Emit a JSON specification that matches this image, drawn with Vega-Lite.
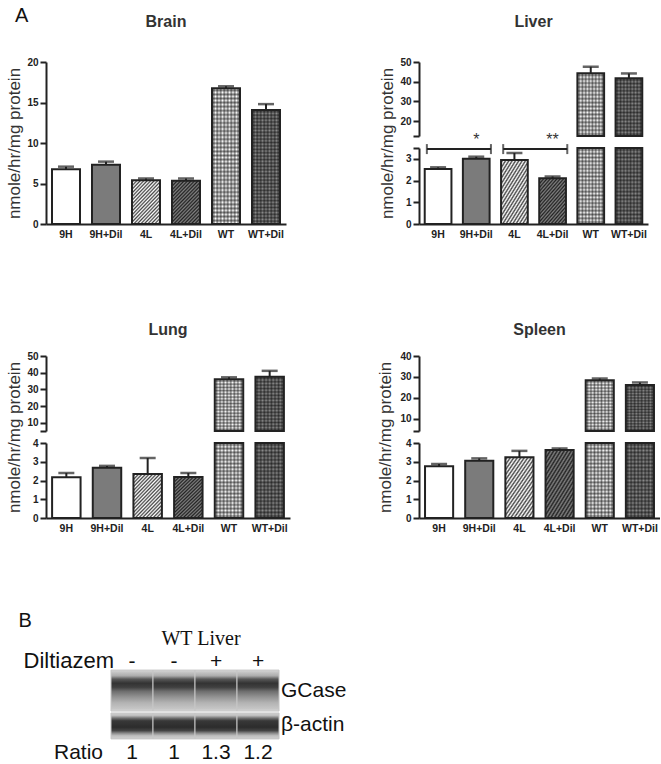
{
"$schema": "https://vega.github.io/schema/vega-lite/v6.json",
"background": "white",
"padding": {"left": 5, "top": 6, "right": 0, "bottom": 0},
"title": {"text": "A", "anchor": "start", "frame": "bounds", "fontSize": 20, "fontWeight": "normal", "color": "#111", "dx": 10, "offset": -28, "baseline": "alphabetic"},
"datasets": {
 "brain": [{"g":"9H","v":6.75,"hi":7.08},{"g":"9H+Dil","v":7.33,"hi":7.7},{"g":"4L","v":5.4,"hi":5.62},{"g":"4L+Dil","v":5.33,"hi":5.62},{"g":"WT","v":16.75,"hi":17.0},{"g":"WT+Dil","v":14.07,"hi":14.8}],
 "liver": [{"g":"9H","v":2.53,"hi":2.61},{"g":"9H+Dil","v":3.0,"hi":3.1},{"g":"4L","v":2.95,"hi":3.27},{"g":"4L+Dil","v":2.11,"hi":2.19},{"g":"WT","v":44.3,"hi":47.6},{"g":"WT+Dil","v":41.8,"hi":44.2}],
 "liver_sig": [{"from":"9H","to":"9H+Dil","at":"9H+Dil","y":3.45,"star":"*"},{"from":"4L","to":"4L+Dil","at":"4L+Dil","y":3.45,"star":"**"}],
 "lung": [{"g":"9H","v":2.17,"hi":2.4},{"g":"9H+Dil","v":2.68,"hi":2.78},{"g":"4L","v":2.35,"hi":3.2},{"g":"4L+Dil","v":2.19,"hi":2.4},{"g":"WT","v":36.0,"hi":37.2},{"g":"WT+Dil","v":37.6,"hi":41.1}],
 "spleen": [{"g":"9H","v":2.76,"hi":2.88},{"g":"9H+Dil","v":3.06,"hi":3.18},{"g":"4L","v":3.24,"hi":3.58},{"g":"4L+Dil","v":3.63,"hi":3.71},{"g":"WT","v":28.4,"hi":29.2},{"g":"WT+Dil","v":26.1,"hi":27.3}],
 "lanes": [{"lane":"1","dil":"-","ratio":"1"},{"lane":"2","dil":"-","ratio":"1"},{"lane":"3","dil":"+","ratio":"1.3"},{"lane":"4","dil":"+","ratio":"1.2"}]
},
"columns": 2,
"spacing": {"row": 132, "column": 129},
"bounds": "flush",
"align": "none",
"concat": [
 {
  "width": 240, "height": 162,
  "title": {"text": "Brain", "offset": 27},
  "data": {"name": "brain"},
  "encoding": {
   "x": {"field":"g","type":"nominal","sort":null,"title":null,"scale":{"domain":["9H","9H+Dil","4L","4L+Dil","WT","WT+Dil"],"paddingInner":0.3,"paddingOuter":0.15}},
   "y": {"field":"v","type":"quantitative","stack":null,"scale":{"domain":[0,20],"nice":false},"axis":{"values":[0,5,10,15,20],"title":"nmole/hr/mg protein","titleX":-32,"titleY":81}}
  },
  "layer": [
   {"mark":{"type":"bar"},"encoding":{"fill":{"field":"g","type":"nominal","scale":{"domain":["9H","9H+Dil","4L","4L+Dil","WT","WT+Dil"],"range":["#ffffff","#7b7b7b","#ffffff","#808080","#ffffff","#8c8c8c"]},"legend":null}}},
   {"transform":[{"filter":{"field":"g","oneOf":["4L","4L+Dil"]}}],"mark":{"type":"bar","fill":{"gradient":"linear","x1":0,"y1":0,"x2":0.77,"y2":1.15,"stops":[{"offset":0,"color":"#0000"},{"offset":0.025,"color":"#000b"},{"offset":0.05,"color":"#0000"},{"offset":0.075,"color":"#000b"},{"offset":0.1,"color":"#0000"},{"offset":0.125,"color":"#000b"},{"offset":0.15,"color":"#0000"},{"offset":0.175,"color":"#000b"},{"offset":0.2,"color":"#0000"},{"offset":0.225,"color":"#000b"},{"offset":0.25,"color":"#0000"},{"offset":0.275,"color":"#000b"},{"offset":0.3,"color":"#0000"},{"offset":0.325,"color":"#000b"},{"offset":0.35,"color":"#0000"},{"offset":0.375,"color":"#000b"},{"offset":0.4,"color":"#0000"},{"offset":0.425,"color":"#000b"},{"offset":0.45,"color":"#0000"},{"offset":0.475,"color":"#000b"},{"offset":0.5,"color":"#0000"},{"offset":0.525,"color":"#000b"},{"offset":0.55,"color":"#0000"},{"offset":0.575,"color":"#000b"},{"offset":0.6,"color":"#0000"},{"offset":0.625,"color":"#000b"},{"offset":0.65,"color":"#0000"},{"offset":0.675,"color":"#000b"},{"offset":0.7,"color":"#0000"},{"offset":0.725,"color":"#000b"},{"offset":0.75,"color":"#0000"},{"offset":0.775,"color":"#000b"},{"offset":0.8,"color":"#0000"},{"offset":0.825,"color":"#000b"},{"offset":0.85,"color":"#0000"},{"offset":0.875,"color":"#000b"},{"offset":0.9,"color":"#0000"},{"offset":0.925,"color":"#000b"},{"offset":0.95,"color":"#0000"},{"offset":0.975,"color":"#000b"},{"offset":1,"color":"#0000"}]}}},
   {"transform":[{"filter":{"field":"g","oneOf":["WT","WT+Dil"]}}],"mark":{"type":"bar","fill":{"gradient":"linear","x1":0,"y1":0,"x2":1,"y2":0,"stops":[{"offset":0,"color":"#0000"},{"offset":0.0625,"color":"#0007"},{"offset":0.125,"color":"#0000"},{"offset":0.1875,"color":"#0007"},{"offset":0.25,"color":"#0000"},{"offset":0.3125,"color":"#0007"},{"offset":0.375,"color":"#0000"},{"offset":0.4375,"color":"#0007"},{"offset":0.5,"color":"#0000"},{"offset":0.5625,"color":"#0007"},{"offset":0.625,"color":"#0000"},{"offset":0.6875,"color":"#0007"},{"offset":0.75,"color":"#0000"},{"offset":0.8125,"color":"#0007"},{"offset":0.875,"color":"#0000"},{"offset":0.9375,"color":"#0007"},{"offset":1,"color":"#0000"}]}}},
   {"transform":[{"filter":{"field":"g","oneOf":["WT","WT+Dil"]}}],"mark":{"type":"bar","fill":{"gradient":"linear","x1":0,"y1":0,"x2":0,"y2":1,"stops":[{"offset":0,"color":"#0000"},{"offset":0.015,"color":"#0007"},{"offset":0.03,"color":"#0000"},{"offset":0.045,"color":"#0007"},{"offset":0.06,"color":"#0000"},{"offset":0.075,"color":"#0007"},{"offset":0.09,"color":"#0000"},{"offset":0.105,"color":"#0007"},{"offset":0.12,"color":"#0000"},{"offset":0.135,"color":"#0007"},{"offset":0.15,"color":"#0000"},{"offset":0.165,"color":"#0007"},{"offset":0.18,"color":"#0000"},{"offset":0.195,"color":"#0007"},{"offset":0.21,"color":"#0000"},{"offset":0.225,"color":"#0007"},{"offset":0.24,"color":"#0000"},{"offset":0.255,"color":"#0007"},{"offset":0.27,"color":"#0000"},{"offset":0.285,"color":"#0007"},{"offset":0.3,"color":"#0000"},{"offset":0.315,"color":"#0007"},{"offset":0.33,"color":"#0000"},{"offset":0.345,"color":"#0007"},{"offset":0.36,"color":"#0000"},{"offset":0.375,"color":"#0007"},{"offset":0.39,"color":"#0000"},{"offset":0.405,"color":"#0007"},{"offset":0.42,"color":"#0000"},{"offset":0.435,"color":"#0007"},{"offset":0.45,"color":"#0000"},{"offset":0.465,"color":"#0007"},{"offset":0.48,"color":"#0000"},{"offset":0.495,"color":"#0007"},{"offset":0.51,"color":"#0000"},{"offset":0.525,"color":"#0007"},{"offset":0.54,"color":"#0000"},{"offset":0.555,"color":"#0007"},{"offset":0.57,"color":"#0000"},{"offset":0.585,"color":"#0007"},{"offset":0.6,"color":"#0000"},{"offset":0.615,"color":"#0007"},{"offset":0.63,"color":"#0000"},{"offset":0.645,"color":"#0007"},{"offset":0.66,"color":"#0000"},{"offset":0.675,"color":"#0007"},{"offset":0.69,"color":"#0000"},{"offset":0.705,"color":"#0007"},{"offset":0.72,"color":"#0000"},{"offset":0.735,"color":"#0007"},{"offset":0.75,"color":"#0000"},{"offset":0.765,"color":"#0007"},{"offset":0.78,"color":"#0000"},{"offset":0.795,"color":"#0007"},{"offset":0.81,"color":"#0000"},{"offset":0.825,"color":"#0007"},{"offset":0.84,"color":"#0000"},{"offset":0.855,"color":"#0007"},{"offset":0.87,"color":"#0000"},{"offset":0.885,"color":"#0007"},{"offset":0.9,"color":"#0000"},{"offset":0.915,"color":"#0007"},{"offset":0.93,"color":"#0000"},{"offset":0.945,"color":"#0007"},{"offset":0.96,"color":"#0000"},{"offset":0.975,"color":"#0007"},{"offset":0.99,"color":"#0000"},{"offset":1,"color":"#0000"}]}}},
   {"mark":{"type":"bar","fill":"transparent","stroke":"#222","strokeWidth":2}},
   {"mark":{"type":"rule","color":"#222","strokeWidth":2},"encoding":{"y2":{"field":"hi"}}},
   {"mark":{"type":"tick","color":"#222","size":16,"thickness":2.5},"encoding":{"y":{"field":"hi","type":"quantitative"}}}
  ]
 },
 {
  "width": 229, "height": 162,
  "title": {"text": "Liver", "offset": 27},
  "data": {"name": "liver"},
  "layer": [
   {
    "encoding": {
     "x": {"field":"g","type":"nominal","sort":null,"title":null,"scale":{"domain":["9H","9H+Dil","4L","4L+Dil","WT","WT+Dil"],"paddingInner":0.3,"paddingOuter":0.15}},
     "y": {"field":"v","type":"quantitative","stack":null,"scale":{"domain":[0,3.5],"range":[162,86],"clamp":true,"nice":false,"zero":false},"axis":{"orient":"left","values":[0,1,2,3,3.5],"labelExpr":"datum.value == 3.5 ? '' : format(datum.value, 'd')","title":"nmole/hr/mg protein","titleX":-32,"titleY":81}}
    },
    "layer": [
     {"mark":{"type":"bar"},"encoding":{"fill":{"field":"g","type":"nominal","scale":{"domain":["9H","9H+Dil","4L","4L+Dil","WT","WT+Dil"],"range":["#ffffff","#7b7b7b","#ffffff","#808080","#ffffff","#8c8c8c"]},"legend":null}}},
     {"transform":[{"filter":{"field":"g","oneOf":["4L","4L+Dil"]}}],"mark":{"type":"bar","fill":{"gradient":"linear","x1":0,"y1":0,"x2":0.77,"y2":1.15,"stops":[{"offset":0,"color":"#0000"},{"offset":0.025,"color":"#000b"},{"offset":0.05,"color":"#0000"},{"offset":0.075,"color":"#000b"},{"offset":0.1,"color":"#0000"},{"offset":0.125,"color":"#000b"},{"offset":0.15,"color":"#0000"},{"offset":0.175,"color":"#000b"},{"offset":0.2,"color":"#0000"},{"offset":0.225,"color":"#000b"},{"offset":0.25,"color":"#0000"},{"offset":0.275,"color":"#000b"},{"offset":0.3,"color":"#0000"},{"offset":0.325,"color":"#000b"},{"offset":0.35,"color":"#0000"},{"offset":0.375,"color":"#000b"},{"offset":0.4,"color":"#0000"},{"offset":0.425,"color":"#000b"},{"offset":0.45,"color":"#0000"},{"offset":0.475,"color":"#000b"},{"offset":0.5,"color":"#0000"},{"offset":0.525,"color":"#000b"},{"offset":0.55,"color":"#0000"},{"offset":0.575,"color":"#000b"},{"offset":0.6,"color":"#0000"},{"offset":0.625,"color":"#000b"},{"offset":0.65,"color":"#0000"},{"offset":0.675,"color":"#000b"},{"offset":0.7,"color":"#0000"},{"offset":0.725,"color":"#000b"},{"offset":0.75,"color":"#0000"},{"offset":0.775,"color":"#000b"},{"offset":0.8,"color":"#0000"},{"offset":0.825,"color":"#000b"},{"offset":0.85,"color":"#0000"},{"offset":0.875,"color":"#000b"},{"offset":0.9,"color":"#0000"},{"offset":0.925,"color":"#000b"},{"offset":0.95,"color":"#0000"},{"offset":0.975,"color":"#000b"},{"offset":1,"color":"#0000"}]}}},
     {"transform":[{"filter":{"field":"g","oneOf":["WT","WT+Dil"]}}],"mark":{"type":"bar","fill":{"gradient":"linear","x1":0,"y1":0,"x2":1,"y2":0,"stops":[{"offset":0,"color":"#0000"},{"offset":0.0625,"color":"#0007"},{"offset":0.125,"color":"#0000"},{"offset":0.1875,"color":"#0007"},{"offset":0.25,"color":"#0000"},{"offset":0.3125,"color":"#0007"},{"offset":0.375,"color":"#0000"},{"offset":0.4375,"color":"#0007"},{"offset":0.5,"color":"#0000"},{"offset":0.5625,"color":"#0007"},{"offset":0.625,"color":"#0000"},{"offset":0.6875,"color":"#0007"},{"offset":0.75,"color":"#0000"},{"offset":0.8125,"color":"#0007"},{"offset":0.875,"color":"#0000"},{"offset":0.9375,"color":"#0007"},{"offset":1,"color":"#0000"}]}}},
     {"transform":[{"filter":{"field":"g","oneOf":["WT","WT+Dil"]}}],"mark":{"type":"bar","fill":{"gradient":"linear","x1":0,"y1":0,"x2":0,"y2":1,"stops":[{"offset":0,"color":"#0000"},{"offset":0.025,"color":"#0007"},{"offset":0.05,"color":"#0000"},{"offset":0.075,"color":"#0007"},{"offset":0.1,"color":"#0000"},{"offset":0.125,"color":"#0007"},{"offset":0.15,"color":"#0000"},{"offset":0.175,"color":"#0007"},{"offset":0.2,"color":"#0000"},{"offset":0.225,"color":"#0007"},{"offset":0.25,"color":"#0000"},{"offset":0.275,"color":"#0007"},{"offset":0.3,"color":"#0000"},{"offset":0.325,"color":"#0007"},{"offset":0.35,"color":"#0000"},{"offset":0.375,"color":"#0007"},{"offset":0.4,"color":"#0000"},{"offset":0.425,"color":"#0007"},{"offset":0.45,"color":"#0000"},{"offset":0.475,"color":"#0007"},{"offset":0.5,"color":"#0000"},{"offset":0.525,"color":"#0007"},{"offset":0.55,"color":"#0000"},{"offset":0.575,"color":"#0007"},{"offset":0.6,"color":"#0000"},{"offset":0.625,"color":"#0007"},{"offset":0.65,"color":"#0000"},{"offset":0.675,"color":"#0007"},{"offset":0.7,"color":"#0000"},{"offset":0.725,"color":"#0007"},{"offset":0.75,"color":"#0000"},{"offset":0.775,"color":"#0007"},{"offset":0.8,"color":"#0000"},{"offset":0.825,"color":"#0007"},{"offset":0.85,"color":"#0000"},{"offset":0.875,"color":"#0007"},{"offset":0.9,"color":"#0000"},{"offset":0.925,"color":"#0007"},{"offset":0.95,"color":"#0000"},{"offset":0.975,"color":"#0007"},{"offset":1,"color":"#0000"}]}}},
     {"mark":{"type":"bar","fill":"transparent","stroke":"#222","strokeWidth":2}},
     {"transform":[{"filter":"datum.v < 10"}],"mark":{"type":"rule","color":"#222","strokeWidth":2},"encoding":{"y2":{"field":"hi"}}},
     {"transform":[{"filter":"datum.v < 10"}],"mark":{"type":"tick","color":"#222","size":16,"thickness":2.5},"encoding":{"y":{"field":"hi","type":"quantitative"}}},
     {"data":{"name":"liver_sig"},"mark":{"type":"rule","color":"#222","strokeWidth":2},"encoding":{"x":{"field":"from","type":"nominal","bandPosition":0.08},"x2":{"field":"to","bandPosition":1.05},"y":{"field":"y","type":"quantitative"}}},
     {"data":{"name":"liver_sig"},"mark":{"type":"tick","orient":"vertical","color":"#222","size":10,"thickness":2},"encoding":{"x":{"field":"from","type":"nominal","bandPosition":0.08},"y":{"field":"y","type":"quantitative"}}},
     {"data":{"name":"liver_sig"},"mark":{"type":"tick","orient":"vertical","color":"#222","size":10,"thickness":2},"encoding":{"x":{"field":"to","type":"nominal","bandPosition":1.05},"y":{"field":"y","type":"quantitative"}}},
     {"data":{"name":"liver_sig"},"mark":{"type":"text","fontSize":16,"color":"#333","baseline":"alphabetic","dy":-4},"encoding":{"x":{"field":"at","type":"nominal"},"y":{"field":"y","type":"quantitative"},"text":{"field":"star"}}}
    ]
   },
   {
    "transform": [{"filter": "datum.v > 10"}],
    "encoding": {
     "x": {"field":"g","type":"nominal","sort":null,"title":null,"scale":{"domain":["9H","9H+Dil","4L","4L+Dil","WT","WT+Dil"],"paddingInner":0.3,"paddingOuter":0.15}},
     "y": {"field":"v","type":"quantitative","stack":null,"scale":{"domain":[12.5,50],"range":[74,0],"clamp":true,"nice":false,"zero":false},"axis":{"orient":"left","values":[12.5,20,30,40,50],"labelExpr":"datum.value == 12.5 ? '' : datum.label","title":null}}
    },
    "layer": [
     {"mark":{"type":"bar"},"encoding":{"fill":{"field":"g","type":"nominal","scale":{"domain":["9H","9H+Dil","4L","4L+Dil","WT","WT+Dil"],"range":["#ffffff","#7b7b7b","#ffffff","#808080","#ffffff","#8c8c8c"]},"legend":null}}},
     {"mark":{"type":"bar","fill":{"gradient":"linear","x1":0,"y1":0,"x2":1,"y2":0,"stops":[{"offset":0,"color":"#0000"},{"offset":0.0625,"color":"#0007"},{"offset":0.125,"color":"#0000"},{"offset":0.1875,"color":"#0007"},{"offset":0.25,"color":"#0000"},{"offset":0.3125,"color":"#0007"},{"offset":0.375,"color":"#0000"},{"offset":0.4375,"color":"#0007"},{"offset":0.5,"color":"#0000"},{"offset":0.5625,"color":"#0007"},{"offset":0.625,"color":"#0000"},{"offset":0.6875,"color":"#0007"},{"offset":0.75,"color":"#0000"},{"offset":0.8125,"color":"#0007"},{"offset":0.875,"color":"#0000"},{"offset":0.9375,"color":"#0007"},{"offset":1,"color":"#0000"}]}}},
     {"mark":{"type":"bar","fill":{"gradient":"linear","x1":0,"y1":0,"x2":0,"y2":1,"stops":[{"offset":0,"color":"#0000"},{"offset":0.03125,"color":"#0007"},{"offset":0.0625,"color":"#0000"},{"offset":0.09375,"color":"#0007"},{"offset":0.125,"color":"#0000"},{"offset":0.15625,"color":"#0007"},{"offset":0.1875,"color":"#0000"},{"offset":0.21875,"color":"#0007"},{"offset":0.25,"color":"#0000"},{"offset":0.28125,"color":"#0007"},{"offset":0.3125,"color":"#0000"},{"offset":0.34375,"color":"#0007"},{"offset":0.375,"color":"#0000"},{"offset":0.40625,"color":"#0007"},{"offset":0.4375,"color":"#0000"},{"offset":0.46875,"color":"#0007"},{"offset":0.5,"color":"#0000"},{"offset":0.53125,"color":"#0007"},{"offset":0.5625,"color":"#0000"},{"offset":0.59375,"color":"#0007"},{"offset":0.625,"color":"#0000"},{"offset":0.65625,"color":"#0007"},{"offset":0.6875,"color":"#0000"},{"offset":0.71875,"color":"#0007"},{"offset":0.75,"color":"#0000"},{"offset":0.78125,"color":"#0007"},{"offset":0.8125,"color":"#0000"},{"offset":0.84375,"color":"#0007"},{"offset":0.875,"color":"#0000"},{"offset":0.90625,"color":"#0007"},{"offset":0.9375,"color":"#0000"},{"offset":0.96875,"color":"#0007"},{"offset":1,"color":"#0000"}]}}},
     {"mark":{"type":"bar","fill":"transparent","stroke":"#222","strokeWidth":2}},
     {"mark":{"type":"rule","color":"#222","strokeWidth":2},"encoding":{"y2":{"field":"hi"}}},
     {"mark":{"type":"tick","color":"#222","size":16,"thickness":2.5},"encoding":{"y":{"field":"hi","type":"quantitative"}}}
    ]
   }
  ],
  "resolve": {"scale": {"y": "independent"}}
 },
 {
  "width": 244, "height": 162,
  "title": {"text": "Lung", "offset": 13},
  "data": {"name": "lung"},
  "layer": [
   {
    "encoding": {
     "x": {"field":"g","type":"nominal","sort":null,"title":null,"scale":{"domain":["9H","9H+Dil","4L","4L+Dil","WT","WT+Dil"],"paddingInner":0.3,"paddingOuter":0.15}},
     "y": {"field":"v","type":"quantitative","stack":null,"scale":{"domain":[0,4],"range":[162,87],"clamp":true,"nice":false,"zero":false},"axis":{"orient":"left","values":[0,1,2,3,4],"title":"nmole/hr/mg protein","titleX":-32,"titleY":81}}
    },
    "layer": [
     {"mark":{"type":"bar"},"encoding":{"fill":{"field":"g","type":"nominal","scale":{"domain":["9H","9H+Dil","4L","4L+Dil","WT","WT+Dil"],"range":["#ffffff","#7b7b7b","#ffffff","#808080","#ffffff","#8c8c8c"]},"legend":null}}},
     {"transform":[{"filter":{"field":"g","oneOf":["4L","4L+Dil"]}}],"mark":{"type":"bar","fill":{"gradient":"linear","x1":0,"y1":0,"x2":0.77,"y2":1.15,"stops":[{"offset":0,"color":"#0000"},{"offset":0.025,"color":"#000b"},{"offset":0.05,"color":"#0000"},{"offset":0.075,"color":"#000b"},{"offset":0.1,"color":"#0000"},{"offset":0.125,"color":"#000b"},{"offset":0.15,"color":"#0000"},{"offset":0.175,"color":"#000b"},{"offset":0.2,"color":"#0000"},{"offset":0.225,"color":"#000b"},{"offset":0.25,"color":"#0000"},{"offset":0.275,"color":"#000b"},{"offset":0.3,"color":"#0000"},{"offset":0.325,"color":"#000b"},{"offset":0.35,"color":"#0000"},{"offset":0.375,"color":"#000b"},{"offset":0.4,"color":"#0000"},{"offset":0.425,"color":"#000b"},{"offset":0.45,"color":"#0000"},{"offset":0.475,"color":"#000b"},{"offset":0.5,"color":"#0000"},{"offset":0.525,"color":"#000b"},{"offset":0.55,"color":"#0000"},{"offset":0.575,"color":"#000b"},{"offset":0.6,"color":"#0000"},{"offset":0.625,"color":"#000b"},{"offset":0.65,"color":"#0000"},{"offset":0.675,"color":"#000b"},{"offset":0.7,"color":"#0000"},{"offset":0.725,"color":"#000b"},{"offset":0.75,"color":"#0000"},{"offset":0.775,"color":"#000b"},{"offset":0.8,"color":"#0000"},{"offset":0.825,"color":"#000b"},{"offset":0.85,"color":"#0000"},{"offset":0.875,"color":"#000b"},{"offset":0.9,"color":"#0000"},{"offset":0.925,"color":"#000b"},{"offset":0.95,"color":"#0000"},{"offset":0.975,"color":"#000b"},{"offset":1,"color":"#0000"}]}}},
     {"transform":[{"filter":{"field":"g","oneOf":["WT","WT+Dil"]}}],"mark":{"type":"bar","fill":{"gradient":"linear","x1":0,"y1":0,"x2":1,"y2":0,"stops":[{"offset":0,"color":"#0000"},{"offset":0.0625,"color":"#0007"},{"offset":0.125,"color":"#0000"},{"offset":0.1875,"color":"#0007"},{"offset":0.25,"color":"#0000"},{"offset":0.3125,"color":"#0007"},{"offset":0.375,"color":"#0000"},{"offset":0.4375,"color":"#0007"},{"offset":0.5,"color":"#0000"},{"offset":0.5625,"color":"#0007"},{"offset":0.625,"color":"#0000"},{"offset":0.6875,"color":"#0007"},{"offset":0.75,"color":"#0000"},{"offset":0.8125,"color":"#0007"},{"offset":0.875,"color":"#0000"},{"offset":0.9375,"color":"#0007"},{"offset":1,"color":"#0000"}]}}},
     {"transform":[{"filter":{"field":"g","oneOf":["WT","WT+Dil"]}}],"mark":{"type":"bar","fill":{"gradient":"linear","x1":0,"y1":0,"x2":0,"y2":1,"stops":[{"offset":0,"color":"#0000"},{"offset":0.025,"color":"#0007"},{"offset":0.05,"color":"#0000"},{"offset":0.075,"color":"#0007"},{"offset":0.1,"color":"#0000"},{"offset":0.125,"color":"#0007"},{"offset":0.15,"color":"#0000"},{"offset":0.175,"color":"#0007"},{"offset":0.2,"color":"#0000"},{"offset":0.225,"color":"#0007"},{"offset":0.25,"color":"#0000"},{"offset":0.275,"color":"#0007"},{"offset":0.3,"color":"#0000"},{"offset":0.325,"color":"#0007"},{"offset":0.35,"color":"#0000"},{"offset":0.375,"color":"#0007"},{"offset":0.4,"color":"#0000"},{"offset":0.425,"color":"#0007"},{"offset":0.45,"color":"#0000"},{"offset":0.475,"color":"#0007"},{"offset":0.5,"color":"#0000"},{"offset":0.525,"color":"#0007"},{"offset":0.55,"color":"#0000"},{"offset":0.575,"color":"#0007"},{"offset":0.6,"color":"#0000"},{"offset":0.625,"color":"#0007"},{"offset":0.65,"color":"#0000"},{"offset":0.675,"color":"#0007"},{"offset":0.7,"color":"#0000"},{"offset":0.725,"color":"#0007"},{"offset":0.75,"color":"#0000"},{"offset":0.775,"color":"#0007"},{"offset":0.8,"color":"#0000"},{"offset":0.825,"color":"#0007"},{"offset":0.85,"color":"#0000"},{"offset":0.875,"color":"#0007"},{"offset":0.9,"color":"#0000"},{"offset":0.925,"color":"#0007"},{"offset":0.95,"color":"#0000"},{"offset":0.975,"color":"#0007"},{"offset":1,"color":"#0000"}]}}},
     {"mark":{"type":"bar","fill":"transparent","stroke":"#222","strokeWidth":2}},
     {"transform":[{"filter":"datum.v < 10"}],"mark":{"type":"rule","color":"#222","strokeWidth":2},"encoding":{"y2":{"field":"hi"}}},
     {"transform":[{"filter":"datum.v < 10"}],"mark":{"type":"tick","color":"#222","size":16,"thickness":2.5},"encoding":{"y":{"field":"hi","type":"quantitative"}}}
    ]
   },
   {
    "transform": [{"filter": "datum.v > 10"}],
    "encoding": {
     "x": {"field":"g","type":"nominal","sort":null,"title":null,"scale":{"domain":["9H","9H+Dil","4L","4L+Dil","WT","WT+Dil"],"paddingInner":0.3,"paddingOuter":0.15}},
     "y": {"field":"v","type":"quantitative","stack":null,"scale":{"domain":[5,50],"range":[75,0],"clamp":true,"nice":false,"zero":false},"axis":{"orient":"left","values":[5,10,20,30,40,50],"labelExpr":"datum.value == 5 ? '' : datum.label","title":null}}
    },
    "layer": [
     {"mark":{"type":"bar"},"encoding":{"fill":{"field":"g","type":"nominal","scale":{"domain":["9H","9H+Dil","4L","4L+Dil","WT","WT+Dil"],"range":["#ffffff","#7b7b7b","#ffffff","#808080","#ffffff","#8c8c8c"]},"legend":null}}},
     {"mark":{"type":"bar","fill":{"gradient":"linear","x1":0,"y1":0,"x2":1,"y2":0,"stops":[{"offset":0,"color":"#0000"},{"offset":0.0625,"color":"#0007"},{"offset":0.125,"color":"#0000"},{"offset":0.1875,"color":"#0007"},{"offset":0.25,"color":"#0000"},{"offset":0.3125,"color":"#0007"},{"offset":0.375,"color":"#0000"},{"offset":0.4375,"color":"#0007"},{"offset":0.5,"color":"#0000"},{"offset":0.5625,"color":"#0007"},{"offset":0.625,"color":"#0000"},{"offset":0.6875,"color":"#0007"},{"offset":0.75,"color":"#0000"},{"offset":0.8125,"color":"#0007"},{"offset":0.875,"color":"#0000"},{"offset":0.9375,"color":"#0007"},{"offset":1,"color":"#0000"}]}}},
     {"mark":{"type":"bar","fill":{"gradient":"linear","x1":0,"y1":0,"x2":0,"y2":1,"stops":[{"offset":0,"color":"#0000"},{"offset":0.03125,"color":"#0007"},{"offset":0.0625,"color":"#0000"},{"offset":0.09375,"color":"#0007"},{"offset":0.125,"color":"#0000"},{"offset":0.15625,"color":"#0007"},{"offset":0.1875,"color":"#0000"},{"offset":0.21875,"color":"#0007"},{"offset":0.25,"color":"#0000"},{"offset":0.28125,"color":"#0007"},{"offset":0.3125,"color":"#0000"},{"offset":0.34375,"color":"#0007"},{"offset":0.375,"color":"#0000"},{"offset":0.40625,"color":"#0007"},{"offset":0.4375,"color":"#0000"},{"offset":0.46875,"color":"#0007"},{"offset":0.5,"color":"#0000"},{"offset":0.53125,"color":"#0007"},{"offset":0.5625,"color":"#0000"},{"offset":0.59375,"color":"#0007"},{"offset":0.625,"color":"#0000"},{"offset":0.65625,"color":"#0007"},{"offset":0.6875,"color":"#0000"},{"offset":0.71875,"color":"#0007"},{"offset":0.75,"color":"#0000"},{"offset":0.78125,"color":"#0007"},{"offset":0.8125,"color":"#0000"},{"offset":0.84375,"color":"#0007"},{"offset":0.875,"color":"#0000"},{"offset":0.90625,"color":"#0007"},{"offset":0.9375,"color":"#0000"},{"offset":0.96875,"color":"#0007"},{"offset":1,"color":"#0000"}]}}},
     {"mark":{"type":"bar","fill":"transparent","stroke":"#222","strokeWidth":2}},
     {"mark":{"type":"rule","color":"#222","strokeWidth":2},"encoding":{"y2":{"field":"hi"}}},
     {"mark":{"type":"tick","color":"#222","size":16,"thickness":2.5},"encoding":{"y":{"field":"hi","type":"quantitative"}}}
    ]
   }
  ],
  "resolve": {"scale": {"y": "independent"}}
 },
 {
  "width": 241, "height": 162,
  "title": {"text": "Spleen", "offset": 13},
  "data": {"name": "spleen"},
  "layer": [
   {
    "encoding": {
     "x": {"field":"g","type":"nominal","sort":null,"title":null,"scale":{"domain":["9H","9H+Dil","4L","4L+Dil","WT","WT+Dil"],"paddingInner":0.3,"paddingOuter":0.15}},
     "y": {"field":"v","type":"quantitative","stack":null,"scale":{"domain":[0,4],"range":[162,87],"clamp":true,"nice":false,"zero":false},"axis":{"orient":"left","values":[0,1,2,3,4],"title":"nmole/hr/mg protein","titleX":-34,"titleY":81}}
    },
    "layer": [
     {"mark":{"type":"bar"},"encoding":{"fill":{"field":"g","type":"nominal","scale":{"domain":["9H","9H+Dil","4L","4L+Dil","WT","WT+Dil"],"range":["#ffffff","#7b7b7b","#ffffff","#808080","#ffffff","#8c8c8c"]},"legend":null}}},
     {"transform":[{"filter":{"field":"g","oneOf":["4L","4L+Dil"]}}],"mark":{"type":"bar","fill":{"gradient":"linear","x1":0,"y1":0,"x2":0.77,"y2":1.15,"stops":[{"offset":0,"color":"#0000"},{"offset":0.025,"color":"#000b"},{"offset":0.05,"color":"#0000"},{"offset":0.075,"color":"#000b"},{"offset":0.1,"color":"#0000"},{"offset":0.125,"color":"#000b"},{"offset":0.15,"color":"#0000"},{"offset":0.175,"color":"#000b"},{"offset":0.2,"color":"#0000"},{"offset":0.225,"color":"#000b"},{"offset":0.25,"color":"#0000"},{"offset":0.275,"color":"#000b"},{"offset":0.3,"color":"#0000"},{"offset":0.325,"color":"#000b"},{"offset":0.35,"color":"#0000"},{"offset":0.375,"color":"#000b"},{"offset":0.4,"color":"#0000"},{"offset":0.425,"color":"#000b"},{"offset":0.45,"color":"#0000"},{"offset":0.475,"color":"#000b"},{"offset":0.5,"color":"#0000"},{"offset":0.525,"color":"#000b"},{"offset":0.55,"color":"#0000"},{"offset":0.575,"color":"#000b"},{"offset":0.6,"color":"#0000"},{"offset":0.625,"color":"#000b"},{"offset":0.65,"color":"#0000"},{"offset":0.675,"color":"#000b"},{"offset":0.7,"color":"#0000"},{"offset":0.725,"color":"#000b"},{"offset":0.75,"color":"#0000"},{"offset":0.775,"color":"#000b"},{"offset":0.8,"color":"#0000"},{"offset":0.825,"color":"#000b"},{"offset":0.85,"color":"#0000"},{"offset":0.875,"color":"#000b"},{"offset":0.9,"color":"#0000"},{"offset":0.925,"color":"#000b"},{"offset":0.95,"color":"#0000"},{"offset":0.975,"color":"#000b"},{"offset":1,"color":"#0000"}]}}},
     {"transform":[{"filter":{"field":"g","oneOf":["WT","WT+Dil"]}}],"mark":{"type":"bar","fill":{"gradient":"linear","x1":0,"y1":0,"x2":1,"y2":0,"stops":[{"offset":0,"color":"#0000"},{"offset":0.0625,"color":"#0007"},{"offset":0.125,"color":"#0000"},{"offset":0.1875,"color":"#0007"},{"offset":0.25,"color":"#0000"},{"offset":0.3125,"color":"#0007"},{"offset":0.375,"color":"#0000"},{"offset":0.4375,"color":"#0007"},{"offset":0.5,"color":"#0000"},{"offset":0.5625,"color":"#0007"},{"offset":0.625,"color":"#0000"},{"offset":0.6875,"color":"#0007"},{"offset":0.75,"color":"#0000"},{"offset":0.8125,"color":"#0007"},{"offset":0.875,"color":"#0000"},{"offset":0.9375,"color":"#0007"},{"offset":1,"color":"#0000"}]}}},
     {"transform":[{"filter":{"field":"g","oneOf":["WT","WT+Dil"]}}],"mark":{"type":"bar","fill":{"gradient":"linear","x1":0,"y1":0,"x2":0,"y2":1,"stops":[{"offset":0,"color":"#0000"},{"offset":0.025,"color":"#0007"},{"offset":0.05,"color":"#0000"},{"offset":0.075,"color":"#0007"},{"offset":0.1,"color":"#0000"},{"offset":0.125,"color":"#0007"},{"offset":0.15,"color":"#0000"},{"offset":0.175,"color":"#0007"},{"offset":0.2,"color":"#0000"},{"offset":0.225,"color":"#0007"},{"offset":0.25,"color":"#0000"},{"offset":0.275,"color":"#0007"},{"offset":0.3,"color":"#0000"},{"offset":0.325,"color":"#0007"},{"offset":0.35,"color":"#0000"},{"offset":0.375,"color":"#0007"},{"offset":0.4,"color":"#0000"},{"offset":0.425,"color":"#0007"},{"offset":0.45,"color":"#0000"},{"offset":0.475,"color":"#0007"},{"offset":0.5,"color":"#0000"},{"offset":0.525,"color":"#0007"},{"offset":0.55,"color":"#0000"},{"offset":0.575,"color":"#0007"},{"offset":0.6,"color":"#0000"},{"offset":0.625,"color":"#0007"},{"offset":0.65,"color":"#0000"},{"offset":0.675,"color":"#0007"},{"offset":0.7,"color":"#0000"},{"offset":0.725,"color":"#0007"},{"offset":0.75,"color":"#0000"},{"offset":0.775,"color":"#0007"},{"offset":0.8,"color":"#0000"},{"offset":0.825,"color":"#0007"},{"offset":0.85,"color":"#0000"},{"offset":0.875,"color":"#0007"},{"offset":0.9,"color":"#0000"},{"offset":0.925,"color":"#0007"},{"offset":0.95,"color":"#0000"},{"offset":0.975,"color":"#0007"},{"offset":1,"color":"#0000"}]}}},
     {"mark":{"type":"bar","fill":"transparent","stroke":"#222","strokeWidth":2}},
     {"transform":[{"filter":"datum.v < 10"}],"mark":{"type":"rule","color":"#222","strokeWidth":2},"encoding":{"y2":{"field":"hi"}}},
     {"transform":[{"filter":"datum.v < 10"}],"mark":{"type":"tick","color":"#222","size":16,"thickness":2.5},"encoding":{"y":{"field":"hi","type":"quantitative"}}}
    ]
   },
   {
    "transform": [{"filter": "datum.v > 10"}],
    "encoding": {
     "x": {"field":"g","type":"nominal","sort":null,"title":null,"scale":{"domain":["9H","9H+Dil","4L","4L+Dil","WT","WT+Dil"],"paddingInner":0.3,"paddingOuter":0.15}},
     "y": {"field":"v","type":"quantitative","stack":null,"scale":{"domain":[4,40],"range":[75,0],"clamp":true,"nice":false,"zero":false},"axis":{"orient":"left","values":[4,10,20,30,40],"labelExpr":"datum.value == 4 ? '' : datum.label","title":null}}
    },
    "layer": [
     {"mark":{"type":"bar"},"encoding":{"fill":{"field":"g","type":"nominal","scale":{"domain":["9H","9H+Dil","4L","4L+Dil","WT","WT+Dil"],"range":["#ffffff","#7b7b7b","#ffffff","#808080","#ffffff","#8c8c8c"]},"legend":null}}},
     {"mark":{"type":"bar","fill":{"gradient":"linear","x1":0,"y1":0,"x2":1,"y2":0,"stops":[{"offset":0,"color":"#0000"},{"offset":0.0625,"color":"#0007"},{"offset":0.125,"color":"#0000"},{"offset":0.1875,"color":"#0007"},{"offset":0.25,"color":"#0000"},{"offset":0.3125,"color":"#0007"},{"offset":0.375,"color":"#0000"},{"offset":0.4375,"color":"#0007"},{"offset":0.5,"color":"#0000"},{"offset":0.5625,"color":"#0007"},{"offset":0.625,"color":"#0000"},{"offset":0.6875,"color":"#0007"},{"offset":0.75,"color":"#0000"},{"offset":0.8125,"color":"#0007"},{"offset":0.875,"color":"#0000"},{"offset":0.9375,"color":"#0007"},{"offset":1,"color":"#0000"}]}}},
     {"mark":{"type":"bar","fill":{"gradient":"linear","x1":0,"y1":0,"x2":0,"y2":1,"stops":[{"offset":0,"color":"#0000"},{"offset":0.03125,"color":"#0007"},{"offset":0.0625,"color":"#0000"},{"offset":0.09375,"color":"#0007"},{"offset":0.125,"color":"#0000"},{"offset":0.15625,"color":"#0007"},{"offset":0.1875,"color":"#0000"},{"offset":0.21875,"color":"#0007"},{"offset":0.25,"color":"#0000"},{"offset":0.28125,"color":"#0007"},{"offset":0.3125,"color":"#0000"},{"offset":0.34375,"color":"#0007"},{"offset":0.375,"color":"#0000"},{"offset":0.40625,"color":"#0007"},{"offset":0.4375,"color":"#0000"},{"offset":0.46875,"color":"#0007"},{"offset":0.5,"color":"#0000"},{"offset":0.53125,"color":"#0007"},{"offset":0.5625,"color":"#0000"},{"offset":0.59375,"color":"#0007"},{"offset":0.625,"color":"#0000"},{"offset":0.65625,"color":"#0007"},{"offset":0.6875,"color":"#0000"},{"offset":0.71875,"color":"#0007"},{"offset":0.75,"color":"#0000"},{"offset":0.78125,"color":"#0007"},{"offset":0.8125,"color":"#0000"},{"offset":0.84375,"color":"#0007"},{"offset":0.875,"color":"#0000"},{"offset":0.90625,"color":"#0007"},{"offset":0.9375,"color":"#0000"},{"offset":0.96875,"color":"#0007"},{"offset":1,"color":"#0000"}]}}},
     {"mark":{"type":"bar","fill":"transparent","stroke":"#222","strokeWidth":2}},
     {"mark":{"type":"rule","color":"#222","strokeWidth":2},"encoding":{"y2":{"field":"hi"}}},
     {"mark":{"type":"tick","color":"#222","size":16,"thickness":2.5},"encoding":{"y":{"field":"hi","type":"quantitative"}}}
    ]
   }
  ],
  "resolve": {"scale": {"y": "independent"}}
 },
 {
  "width": 240, "height": 113,
  "title": {"text": "B", "anchor": "start", "frame": "bounds", "fontSize": 20, "fontWeight": "normal", "color": "#111", "dx": -5, "offset": -18, "baseline": "alphabetic"},
  "data": {"name": "lanes"},
  "encoding": {"x": {"field":"lane","type":"nominal","scale":{"domain":["1","2","3","4"],"paddingInner":0,"paddingOuter":0.857,"align":0.903},"axis":null}},
  "layer": [
   {"mark":{"type":"rect","stroke":"#c6c6c6","strokeWidth":1,"fill":{"gradient":"linear","x1":0,"y1":0,"x2":0,"y2":1,"stops":[{"offset":0,"color":"#d8d8d8"},{"offset":0.05,"color":"#c6c6c6"},{"offset":0.14,"color":"#acacac"},{"offset":0.22,"color":"#585858"},{"offset":0.32,"color":"#333333"},{"offset":0.42,"color":"#404040"},{"offset":0.52,"color":"#6e6e6e"},{"offset":0.65,"color":"#919191"},{"offset":0.8,"color":"#b3b3b3"},{"offset":0.95,"color":"#c6c6c6"},{"offset":1,"color":"#dadada"}]}},"encoding":{"y":{"datum":0.8,"type":"quantitative","scale":{"domain":[0,4.5],"reverse":true,"nice":false,"zero":false},"axis":null},"y2":{"datum":2.43}}},
   {"mark":{"type":"rect","stroke":"#c6c6c6","strokeWidth":1,"fill":{"gradient":"linear","x1":0,"y1":0,"x2":0,"y2":1,"stops":[{"offset":0,"color":"#d4d4d4"},{"offset":0.1,"color":"#bdbdbd"},{"offset":0.2,"color":"#707070"},{"offset":0.3,"color":"#383838"},{"offset":0.55,"color":"#2c2c2c"},{"offset":0.68,"color":"#444444"},{"offset":0.78,"color":"#8a8a8a"},{"offset":0.88,"color":"#c0c0c0"},{"offset":1,"color":"#d0d0d0"}]}},"encoding":{"y":{"datum":2.51,"type":"quantitative"},"y2":{"datum":3.54}}},
   {"mark":{"type":"text","fontSize":21},"encoding":{"y":{"datum":0.72,"type":"quantitative"},"text":{"field":"dil"}}},
   {"mark":{"type":"text","fontSize":21},"encoding":{"y":{"datum":4.34,"type":"quantitative"},"text":{"field":"ratio"}}},
   {"data":{"values":[{"t":"Diltiazem"}]},"mark":{"type":"text","fontSize":22,"align":"right","dx":3},"encoding":{"x":{"datum":"1","type":"nominal","bandPosition":0},"y":{"datum":0.72,"type":"quantitative"},"text":{"field":"t"}}},
   {"data":{"values":[{"t":"Ratio"}]},"mark":{"type":"text","fontSize":21,"align":"right","dx":-8},"encoding":{"x":{"datum":"1","type":"nominal","bandPosition":0},"y":{"datum":4.34,"type":"quantitative"},"text":{"field":"t"}}},
   {"data":{"values":[{"t":"GCase"}]},"mark":{"type":"text","fontSize":21,"align":"left","dx":2},"encoding":{"x":{"datum":"4","type":"nominal","bandPosition":1},"y":{"datum":1.87,"type":"quantitative"},"text":{"field":"t"}}},
   {"data":{"values":[{"t":"β-actin"}]},"mark":{"type":"text","fontSize":21,"align":"left","dx":2},"encoding":{"x":{"datum":"4","type":"nominal","bandPosition":1},"y":{"datum":3.23,"type":"quantitative"},"text":{"field":"t"}}},
   {"data":{"values":[{"t":"WT Liver"}]},"mark":{"type":"text","font":"Liberation Serif","fontSize":20,"align":"center","dx":6},"encoding":{"x":{"datum":"3","type":"nominal","bandPosition":0},"y":{"datum":-0.2,"type":"quantitative"},"text":{"field":"t"}}}
  ]
 }
],
"config": {
 "font": "Liberation Sans",
 "view": {"stroke": null},
 "title": {"font": "Liberation Sans", "fontSize": 16, "fontWeight": "bold", "color": "#333", "anchor": "middle", "frame": "group", "baseline": "alphabetic"},
 "axis": {"grid": false, "domainColor": "#222", "domainWidth": 2, "tickColor": "#222", "tickWidth": 2, "labelColor": "#222", "labelFontWeight": "bold", "labelFont": "Liberation Sans"},
 "axisX": {"labelAngle": 0, "ticks": false, "tickSize": 0, "labelPadding": 5, "labelFontSize": 10.5},
 "axisY": {"tickSize": 6, "labelPadding": 2, "labelFontSize": 10, "titleFont": "Liberation Sans", "titleFontSize": 17, "titleFontWeight": "normal", "titleColor": "#333", "titleBaseline": "middle", "titleAlign": "center"},
 "text": {"baseline": "alphabetic", "color": "#111", "font": "Liberation Sans"}
}
}
